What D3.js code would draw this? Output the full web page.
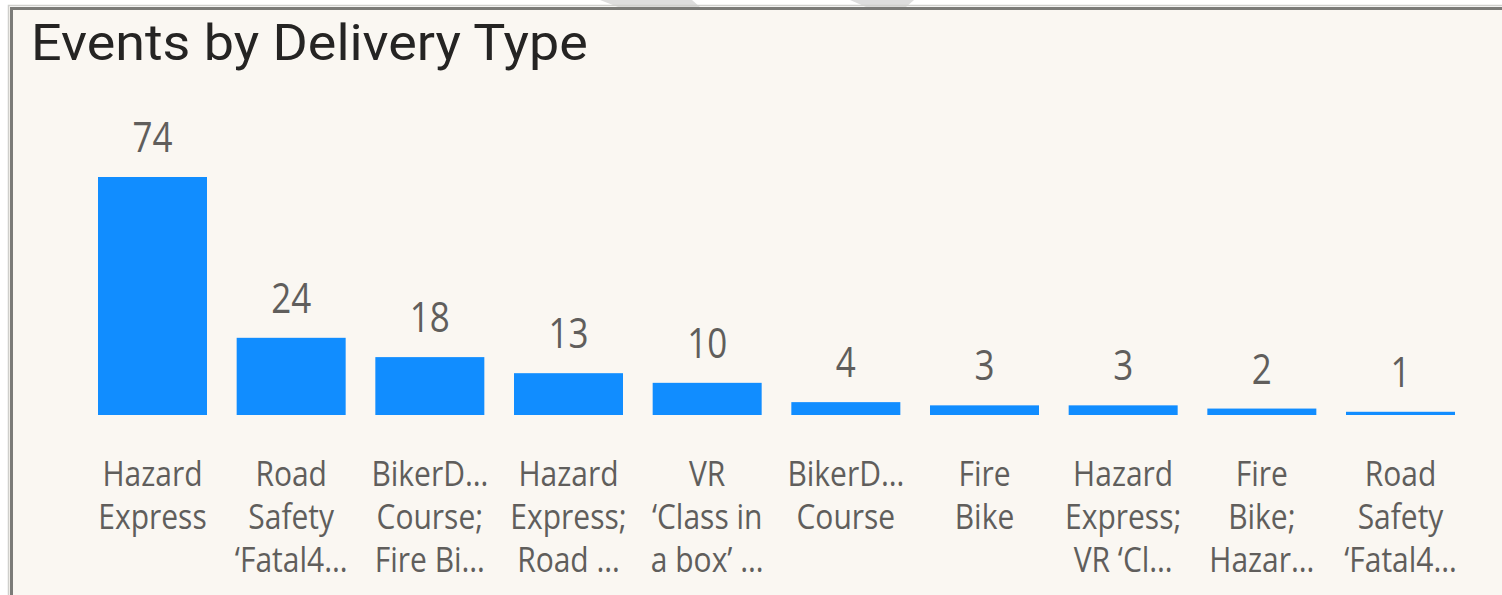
<!DOCTYPE html>
<html>
<head>
<meta charset="utf-8">
<script src="https://cdn.jsdelivr.net/npm/d3@7"></script>
<style>
  html, body { margin: 0; padding: 0; background: #ffffff; }
  svg { display: block; }
</style>
</head>
<body>
<div id="chart"></div>
<script>
// chart data
var categories = [
  ["Hazard", "Express"],
  ["Road", "Safety", "\u2018Fatal4\u2026"],
  ["BikerD\u2026", "Course;", "Fire Bi\u2026"],
  ["Hazard", "Express;", "Road \u2026"],
  ["VR", "\u2018Class in", "a box\u2019 \u2026"],
  ["BikerD\u2026", "Course"],
  ["Fire", "Bike"],
  ["Hazard", "Express;", "VR \u2018Cl\u2026"],
  ["Fire", "Bike;", "Hazar\u2026"],
  ["Road", "Safety", "\u2018Fatal4\u2026"]
];
var values = [74, 24, 18, 13, 10, 4, 3, 3, 2, 1];
var title = "Events by Delivery Type";

var width = 1502,
  height = 595;

var svg = d3
  .select("#chart")
  .append("svg")
  .attr("width", width)
  .attr("height", height);

// light grey shapes peeking above the card
svg
  .append("polygon")
  .attr("points", "600,0 692,0 700,7 618,7")
  .attr("fill", "#dddddd");
svg
  .append("polygon")
  .attr("points", "850,0 914,0 906,7 866,7")
  .attr("fill", "#dddddd");

// card background + border
svg
  .append("rect")
  .attr("x", 9)
  .attr("y", 7)
  .attr("width", width)
  .attr("height", height)
  .attr("fill", "#faf7f2");
svg
  .append("path")
  .attr("d", "M11.5," + height + "V8.5H" + width)
  .attr("fill", "none")
  .attr("stroke", "#7b7b78")
  .attr("stroke-width", 3);
svg
  .append("path")
  .attr("d", "M8.5," + height + "V5.5H" + width)
  .attr("fill", "none")
  .attr("stroke", "#cfcfcc")
  .attr("stroke-width", 1.5);

// title
var titleText = svg
  .append("text")
  .attr("font-family", "Roboto, 'DejaVu Sans', sans-serif")
  .attr("font-size", 50)
  .attr("fill", "#252423")
  .text(title);
var tw = titleText.node().getComputedTextLength();
titleText.attr("transform", "translate(31,60) scale(" + 557 / tw + ",1)");

// scales
var x = d3
  .scaleBand()
  .domain(d3.range(values.length))
  .range([98, 1455])
  .paddingInner(0.214)
  .paddingOuter(0);

var y = d3.scaleLinear().domain([0, 74]).range([415, 177]);

// bars
svg
  .selectAll("rect.bar")
  .data(values)
  .enter()
  .append("rect")
  .attr("class", "bar")
  .attr("x", (d, i) => x(i))
  .attr("y", (d) => y(d))
  .attr("width", x.bandwidth())
  .attr("height", (d) => y(0) - y(d))
  .attr("fill", "#118dff");

// value labels
svg
  .selectAll("text.val")
  .data(values)
  .enter()
  .append("text")
  .attr("class", "val")
  .attr("text-anchor", "middle")
  .attr("font-family", "'Open Sans', sans-serif")
  .attr("font-size", 35)
  .attr("fill", "#605e5c")
  .attr(
    "transform",
    (d, i) =>
      "translate(" + (x(i) + x.bandwidth() / 2) + "," + (y(d) - 25) + ") scale(1,1.22)"
  )
  .text((d) => d);

// category labels (wrapped, truncated like the original)
var lineY = [486, 529, 572];
var cat = svg
  .selectAll("g.cat")
  .data(categories)
  .enter()
  .append("g")
  .attr("class", "cat");

cat
  .selectAll("text")
  .data((d, i) => d.map((t, j) => ({ t: t, i: i, j: j })))
  .enter()
  .append("text")
  .attr("text-anchor", "middle")
  .attr("font-family", "'Open Sans', sans-serif")
  .attr("font-size", 30)
  .attr("fill", "#605e5c")
  .attr(
    "transform",
    (d) =>
      "translate(" + (x(d.i) + x.bandwidth() / 2) + "," + lineY[d.j] + ") scale(1,1.14)"
  )
  .text((d) => d.t);
</script>
</body>
</html>
